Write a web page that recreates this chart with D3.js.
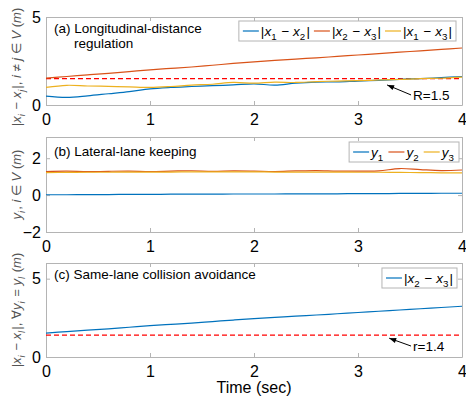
<!DOCTYPE html>
<html>
<head>
<meta charset="utf-8">
<script src="https://cdn.jsdelivr.net/npm/d3@7"></script>
<style>
  body { margin: 0; background: #fff; }
  svg { display: block; }
  text { font-family: "Liberation Sans", Arial, sans-serif; fill: #000; }
</style>
</head>
<body>
<svg id="fig" width="466" height="399"></svg>
<script>
// Simulation time (sec)
const time = [0, 0.2, 0.4, 0.6, 0.8, 1.0, 1.2, 1.4, 1.6, 1.8, 2.0,
              2.2, 2.4, 2.6, 2.8, 3.0, 3.2, 3.4, 3.6, 3.8, 4.0];

// Longitudinal gaps between vehicles (m)
const gap12 = [0.50, 0.43, 0.52, 0.64, 0.76, 0.92, 1.00, 1.05, 1.10, 1.14, 1.20,
               1.13, 1.24, 1.30, 1.31, 1.36, 1.40, 1.46, 1.50, 1.56, 1.62];
const gap23 = [1.53, 1.62, 1.71, 1.80, 1.90, 2.00, 2.08, 2.16, 2.26, 2.36, 2.45,
               2.53, 2.61, 2.68, 2.76, 2.84, 2.92, 3.00, 3.08, 3.16, 3.24];
const gap13 = [1.00, 1.12, 1.08, 1.06, 1.03, 1.00, 1.05, 1.13, 1.18, 1.28, 1.24,
               1.30, 1.28, 1.33, 1.36, 1.38, 1.42, 1.45, 1.50, 1.52, 1.58];

// Lateral positions (m)
const lat1 = [0.02, 0.02, 0.03, 0.03, 0.04, 0.04, 0.05, 0.05, 0.05, 0.06, 0.06,
              0.06, 0.07, 0.07, 0.07, 0.08, 0.08, 0.09, 0.09, 0.10, 0.10];
const lat2 = [1.28, 1.30, 1.27, 1.29, 1.30, 1.28, 1.30, 1.32, 1.29, 1.31, 1.30,
              1.28, 1.31, 1.33, 1.30, 1.30, 1.31, 1.44, 1.38, 1.33, 1.36];
const lat3 = [1.22, 1.23, 1.24, 1.24, 1.25, 1.25, 1.25, 1.26, 1.26, 1.26, 1.26,
              1.25, 1.25, 1.25, 1.25, 1.24, 1.24, 1.23, 1.22, 1.21, 1.20];

// Safety thresholds
const safeR = 1.5;
const safeRSame = 1.4;

// Axis ticks
const xTicks = [0, 1, 2, 3, 4];
const yTicksA = [0, 5];
const yTicksB = [-2, 0, 2];
const yTicksC = [0, 5];

const blue = "#0072BD", orange = "#D95319", yellow = "#EDB120", red = "#FF0000";
const boxColor = "#b4b4b4";

const svg = d3.select("#fig");
const x = d3.scaleLinear().domain([0, 4]).range([46, 462]);

// Writes a small math string: letters italic, "_c" gives a subscript.
function mathText(sel, str, size) {
  const sub = size * 0.3;
  let i = 0;
  while (i < str.length) {
    const ch = str[i];
    if (ch === "_") {
      const c = str[i + 1];
      sel.append("tspan").attr("dy", sub).attr("font-size", size * 0.72)
        .attr("font-style", /[a-z]/i.test(c) ? "italic" : "normal").text(c);
      sel.append("tspan").attr("dy", -sub).text("\u200a");
      i += 2;
    } else {
      sel.append("tspan").attr("font-style", /[a-zA-Z]/.test(ch) ? "italic" : "normal").text(ch);
      i += 1;
    }
  }
}

function panel(cfg) {
  const y = d3.scaleLinear().domain(cfg.domain).range([cfg.bottom, cfg.top]);
  const g = svg.append("g");

  // background box
  g.append("rect").attr("x", x.range()[0]).attr("y", cfg.top)
    .attr("width", x.range()[1] - x.range()[0]).attr("height", cfg.bottom - cfg.top)
    .attr("fill", "#fff");

  const styleAxis = a => {
    a.select(".domain").attr("stroke", boxColor);
    a.selectAll(".tick line").attr("stroke", boxColor);
    a.selectAll("text").attr("font-size", 16).attr("fill", "#000")
      .attr("font-family", "'Liberation Sans', Arial, sans-serif");
  };

  g.append("g").attr("transform", `translate(0,${cfg.bottom})`)
    .call(d3.axisBottom(x).tickValues(xTicks).tickFormat(d3.format("d")).tickSize(-4).tickSizeOuter(0).tickPadding(9))
    .call(styleAxis);
  g.append("g").attr("transform", `translate(0,${cfg.top})`)
    .call(d3.axisTop(x).tickValues(xTicks).tickFormat("").tickSize(-4).tickSizeOuter(0))
    .call(styleAxis);
  g.append("g").attr("transform", `translate(${x.range()[0]},0)`)
    .call(d3.axisLeft(y).tickValues(cfg.yTicks).tickFormat(d3.format("d")).tickSize(-4).tickSizeOuter(0).tickPadding(5))
    .call(styleAxis);
  g.append("g").attr("transform", `translate(${x.range()[1]},0)`)
    .call(d3.axisRight(y).tickValues(cfg.yTicks).tickFormat("").tickSize(-4).tickSizeOuter(0))
    .call(styleAxis);
  g.selectAll(".domain").attr("stroke", boxColor);

  // reference line
  if (cfg.ref !== undefined) {
    g.append("line").attr("x1", x(0)).attr("x2", x(4))
      .attr("y1", y(cfg.ref)).attr("y2", y(cfg.ref))
      .attr("stroke", red).attr("stroke-width", 1.3).attr("stroke-dasharray", "5,3");
  }

  // series
  const line = d3.line().x((d, i) => x(time[i])).y(d => y(d)).curve(d3.curveCatmullRom);
  cfg.series.forEach(s => {
    g.append("path").attr("d", line(s.values)).attr("fill", "none")
      .attr("stroke", s.color).attr("stroke-width", 1.2);
  });

  // panel title
  cfg.title.forEach(t => {
    g.append("text").attr("x", t.x).attr("y", t.y).attr("font-size", 13.5).text(t.text);
  });

  // legend
  const lg = g.append("g");
  let cx = 4;
  cfg.series.forEach(s => {
    const it = lg.append("g").attr("transform", `translate(${cx},0)`);
    it.append("line").attr("x1", 0).attr("x2", 16).attr("y1", 0).attr("y2", 0)
      .attr("stroke", s.color).attr("stroke-width", 1.2);
    const tx = it.append("text").attr("x", 18).attr("y", 4.5).attr("font-size", 13.5)
      .attr("font-family", "'Liberation Serif', 'Times New Roman', serif");
    mathText(tx, s.label, 13.5);
    const w = tx.node().getComputedTextLength();
    cx += 18 + w + 4;
  });
  const bw = cx;
  const bx = x.range()[1] - cfg.legendRight - bw;
  const by = cfg.top + cfg.legendTop;
  lg.insert("rect", ":first-child").attr("x", 0).attr("y", -10).attr("width", bw).attr("height", 20)
    .attr("fill", "#fff").attr("stroke", boxColor).attr("stroke-width", 1);
  lg.attr("transform", `translate(${bx},${by + 10})`);

  // threshold annotation with arrow
  if (cfg.note) {
    const n = cfg.note;
    const tip = [x(n.tip[0]), y(n.tip[1])];
    const tail = [x(n.tail[0]), y(n.tail[1])];
    g.append("line").attr("x1", tail[0]).attr("y1", tail[1]).attr("x2", tip[0]).attr("y2", tip[1])
      .attr("stroke", "#000").attr("stroke-width", 1);
    const ang = Math.atan2(tip[1] - tail[1], tip[0] - tail[0]);
    const L = 7, W = 2.6;
    const bxp = tip[0] - L * Math.cos(ang), byp = tip[1] - L * Math.sin(ang);
    const px = -Math.sin(ang) * W, py = Math.cos(ang) * W;
    g.append("path")
      .attr("d", `M${tip[0]},${tip[1]}L${bxp + px},${byp + py}L${bxp - px},${byp - py}Z`)
      .attr("fill", "#000");
    g.append("text").attr("x", tail[0] + 2).attr("y", tail[1] + 5).attr("font-size", 13.5).text(n.text);
  }

  // y axis label
  const yl = g.append("text")
    .attr("transform", `translate(21,${(cfg.top + cfg.bottom) / 2 + (cfg.ylShift || 0)}) rotate(-90)`)
    .attr("text-anchor", "middle").attr("font-size", 13).attr("fill", "#555")
    .attr("font-family", "'Liberation Serif', 'Times New Roman', serif");
  mathText(yl, cfg.ylabel, 13);
  yl.selectAll("tspan").attr("fill", "#555");
}

panel({
  top: 17, bottom: 105, domain: [0, 5], yTicks: yTicksA, ref: safeR,
  series: [
    { values: gap12, color: blue, label: "|x_1 \u2212 x_2|" },
    { values: gap23, color: orange, label: "|x_2 \u2212 x_3|" },
    { values: gap13, color: yellow, label: "|x_1 \u2212 x_3|" }
  ],
  title: [{ x: 54, y: 33, text: "(a) Longitudinal-distance" }, { x: 74, y: 48, text: "regulation" }],
  legendRight: 6, legendTop: 4,
  note: { tip: [3.28, 1.14], tail: [3.51, 0.57], text: "R=1.5" },
  ylabel: "|x_i \u2212 x_j|, i \u2260 j \u2208 V (m)", ylShift: 6
});

panel({
  top: 137, bottom: 232, domain: [-2, 3.15], yTicks: yTicksB,
  series: [
    { values: lat1, color: blue, label: "y_1" },
    { values: lat2, color: orange, label: "y_2" },
    { values: lat3, color: yellow, label: "y_3" }
  ],
  title: [{ x: 54, y: 156, text: "(b) Lateral-lane keeping" }],
  legendRight: 3, legendTop: 5,
  ylabel: "y_i, i \u2208 V (m)"
});

panel({
  top: 263, bottom: 357, domain: [0, 6], yTicks: yTicksC, ref: safeRSame,
  series: [
    { values: gap23, color: blue, label: "|x_2 \u2212 x_3|" }
  ],
  title: [{ x: 54, y: 279, text: "(c) Same-lane collision avoidance" }],
  legendRight: 5, legendTop: 5,
  note: { tip: [3.3, 1.2], tail: [3.51, 0.7], text: "r=1.4" },
  ylabel: "|x_i \u2212 x_l|, \u2200y_i = y_l (m)"
});

// shared x label
svg.append("text").attr("x", x(2)).attr("y", 393).attr("text-anchor", "middle")
  .attr("font-size", 16).text("Time (sec)");
</script>
</body>
</html>
